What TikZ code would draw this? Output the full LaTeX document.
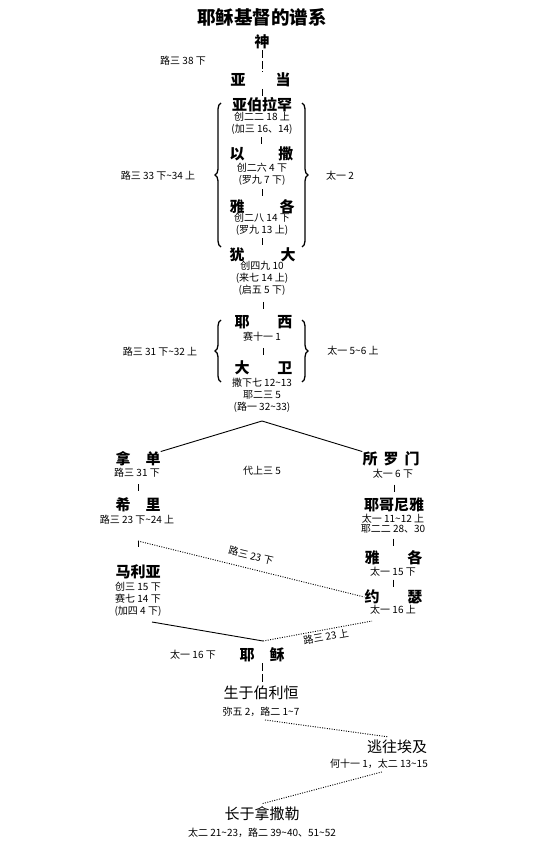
\documentclass[tikz,border=0pt]{standalone}
\usepackage{fontspec}
\setmainfont{Liberation Serif}
\newfontfamily\cjk{Noto Sans CJK SC}
\usetikzlibrary{decorations.pathreplacing,calc}
\newcommand\tl{\textasciitilde}
\newcommand\tickline[2]{\draw[sl] ($(#2.north |- #1.south)!.5!(#2.north)+(0,-3.5)$) -- ++(0,7);}
\begin{document}
\begin{tikzpicture}[x=1pt,y=-1pt,
 ttl/.style={font=\cjk\bfseries\fontsize{18.5}{19}\selectfont, inner sep=0pt},
 nm/.style={font=\cjk\bfseries\fontsize{15}{15}\selectfont, inner sep=0pt},
 pl/.style={font=\cjk\fontsize{15}{16}\selectfont, inner sep=0pt},
 rf/.style={font=\cjk\fontsize{10}{12}\selectfont, inner sep=0pt, align=center},
 vd/.style={line width=0.9pt, dash pattern=on 8pt off 2.5pt},
 dt/.style={line width=0.9pt, dash pattern=on 1pt off 1.4pt},
 sl/.style={line width=0.9pt},
 brc/.style={decorate, decoration={brace, amplitude=6pt}, line width=1.3pt}]
\path[fill=white] (0,0) rectangle (539,850);
\useasboundingbox (0,0) rectangle (539,850);

% title and top
\node[ttl] (title) at (262,17) {耶稣基督的谱系};
\node[nm] (shen) at (262,42) {神};
\node[rf] (r38) at (183,61) {路三 38 下};
\node[nm] (yadang) at (260.5,80) {亚\hspace{30pt}当};

% first brace group
\node[nm] (abraham) at (262,105) {亚伯拉罕};
\node[rf] (abrref) at (262,123) {创二二 18 上\\(加三 16、14)};
\node[nm] (isaac) at (261.5,154) {以\hspace{34pt}撒};
\node[rf] (isaacref) at (262,174.5) {创二六 4 下\\(罗九 7 下)};
\node[nm] (jacob) at (262,207) {雅\hspace{35pt}各};
\node[rf] (jacobref) at (262,224.5) {创二八 14 下\\(罗九 13 上)};
\node[nm] (judah) at (262.5,255) {犹\hspace{36pt}大};
\node[rf] (judahref) at (262,278.5) {创四九 10\\(来七 14 上)\\(启五 5 下)};
\node[rf] (l1) at (158,176) {路三 33 下\tl 34 上};
\node[rf] (r1) at (340,176) {太一 2};
\draw[brc] (221,247) -- (221,103);
\draw[brc] (302,103) -- (302,247);

% second brace group
\node[nm] (jesse) at (263.5,322) {耶\hspace{28pt}西};
\node[rf] (jesseref) at (262,337) {赛十一 1};
\node[nm] (david) at (263.5,368) {大\hspace{28pt}卫};
\node[rf] (davidref) at (262,395) {撒下七 12\tl 13\\耶二三 5\\(路一 32\tl 33)};
\node[rf] (l2) at (160,352) {路三 31 下\tl 32 上};
\node[rf] (r2) at (353,351) {太一 5\tl 6 上};
\draw[brc] (221,382) -- (221,320);
\draw[brc] (302,320) -- (302,382);

% connectors top
\draw[vd] ([yshift=-1pt]shen.south) -- ([yshift=1pt]shen.south |- yadang.north);
\tickline{yadang}{abraham}
\tickline{abrref}{isaac}
\tickline{isaacref}{jacob}
\tickline{jacobref}{judah}
\tickline{judahref}{jesse}
\tickline{jesseref}{david}

% split
\coordinate (apex) at (262,421);
\node[nm] (nadan) at (138,459) {拿\hspace{15pt}单};
\node[rf] (nadanref) at (137,473) {路三 31 下};
\node[nm] (solomon) at (391,459) {所\hspace{6pt}罗\hspace{6pt}门};
\node[rf] (solomonref) at (393,474) {太一 6 下};
\node[rf] (dai) at (262,471) {代上三 5};
\draw[sl] (apex) -- (nadan.north east);
\draw[sl] (apex) -- (solomon.north west);

\node[nm] (xili) at (138,505) {希\hspace{15pt}里};
\node[rf] (xiliref) at (137,520) {路三 23 下\tl 24 上};
\node[nm] (jeconiah) at (394,505) {耶哥尼雅};
\node[rf, font=\cjk\fontsize{10}{10.5}\selectfont] (jecref) at (393,523.5) {太一 11\tl 12 上\\耶二二 28、30};
\node[nm] (jacob2) at (393.5,558) {雅\hspace{28pt}各};
\node[rf] (jacob2ref) at (393,572) {太一 15 下};
\node[nm] (joseph) at (393.5,597) {约\hspace{28pt}瑟};
\node[rf] (josephref) at (393,610) {太一 16 上};
\node[nm] (mary) at (138,572) {马利亚};
\node[rf] (maryref) at (138,599) {创三 15 下\\赛七 14 下\\(加四 4 下)};

\tickline{nadanref}{xili}
\tickline{solomonref}{jeconiah}
\tickline{jecref}{jacob2}
\tickline{jacob2ref}{joseph}

\coordinate (t1) at (138,541);
\draw[sl] (t1) -- ++(0,6);
\draw[dt] (t1) -- (joseph.west);
\node[rf, rotate=-13.5] (lbl1) at (251,555.5) {路三 23 下};

\node[nm] (jesus) at (262,655) {耶\hspace{15pt}稣};
\node[rf] (jesuslbl) at (193,655) {太一 16 下};
\coordinate (jtop) at (263,641);
\coordinate (m1) at (152,622);
\coordinate (j2) at (372,621);
\draw[sl] (m1) -- (jtop);
\draw[dt] (jtop) -- (j2);
\node[rf, rotate=10] (lbl2) at (326,637) {路三 23 上};

% bottom
\node[pl] (birth) at (261,693) {生于伯利恒};
\node[rf] (birthref) at (261,712) {弥五 2，路二 1\tl 7};
\node[pl] (egypt) at (397,747) {逃往埃及};
\node[rf, anchor=east] (egyptref) at (428,764) {何十一 1，太二 13\tl 15};
\node[pl] (naz) at (262,814) {长于拿撒勒};
\node[rf] (nazref) at (262,833) {太二 21\tl 23，路二 39\tl 40、51\tl 52};

\draw[vd] ([yshift=-1pt]jesus.south) -- ([yshift=3pt]jesus.south |- birth.north);
\draw[dt] ([xshift=4pt,yshift=-3pt]birthref.south) -- ([xshift=-9pt,yshift=3pt]egypt.north);
\draw[dt] ([xshift=3pt,yshift=-3pt]egyptref.south) -- ([yshift=3pt]naz.north);
\end{tikzpicture}
\end{document}
